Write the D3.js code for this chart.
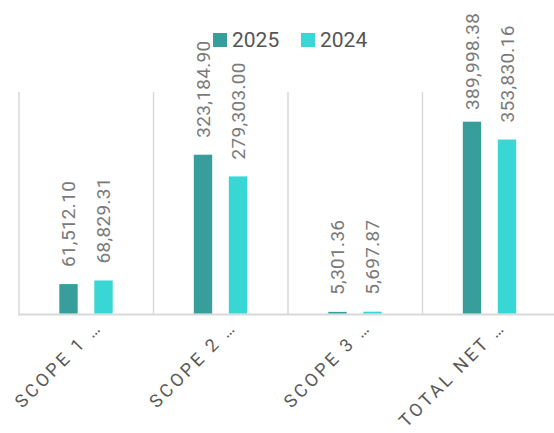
<!DOCTYPE html>
<html>
<head>
<meta charset="utf-8">
<script src="https://cdn.jsdelivr.net/npm/d3@7"></script>
<style>
  body { margin: 0; background: #fff; }
  svg { display: block; font-family: Roboto, "Liberation Sans", sans-serif; }
</style>
</head>
<body>
<svg id="chart" width="554" height="433"></svg>
<script>
// data
var categories = ['SCOPE 1 …', 'SCOPE 2 …', 'SCOPE 3 …', 'TOTAL NET …'];
var series = ['2025', '2024'];
var values2025 = [61512.10, 323184.90, 5301.36, 389998.38];
var values2024 = [68829.31, 279303.00, 5697.87, 353830.16];
var colors = ['#389e9b', '#38d7d6'];

var svg = d3.select('#chart');
var W = 554, H = 433;
var plotTop = 92, base = 314.5, left = 19, right = 557;

var x0 = d3.scaleBand()
  .domain(categories)
  .range([left, right]);

var x1 = d3.scaleBand()
  .domain(series)
  .range([32, 102])
  .paddingInner(0.475)
  .paddingOuter(0.2375);

var y = d3.scaleLinear()
  .domain([0, 450000])
  .range([base, plotTop]);

var fmt = d3.format(',.2f');

var rows = categories.map(function (c, i) {
  return { cat: c, vals: [
    { s: '2025', v: values2025[i] },
    { s: '2024', v: values2024[i] }
  ] };
});

// vertical separators between categories
svg.append('g')
  .selectAll('line')
  .data(categories)
  .enter()
  .append('line')
  .attr('x1', function (d) { return x0(d); })
  .attr('x2', function (d) { return x0(d); })
  .attr('y1', plotTop)
  .attr('y2', base)
  .attr('stroke', '#d9d9d9')
  .attr('stroke-width', 1.5);

// baseline
svg.append('line')
  .attr('x1', left - 1)
  .attr('x2', W)
  .attr('y1', base)
  .attr('y2', base)
  .attr('stroke', '#d9d9d9')
  .attr('stroke-width', 2);

var groups = svg.append('g')
  .selectAll('g')
  .data(rows)
  .enter()
  .append('g')
  .attr('transform', function (d) { return 'translate(' + x0(d.cat) + ',0)'; });

groups.selectAll('rect')
  .data(function (d) { return d.vals; })
  .enter()
  .append('rect')
  .attr('x', function (d) { return x1(d.s); })
  .attr('y', function (d) { return y(d.v); })
  .attr('width', x1.bandwidth())
  .attr('height', function (d) { return y(0) - y(d.v) - 1; })
  .attr('fill', function (d, i) { return colors[i]; });

// value labels, rotated; pushed down when they would leave the top
groups.selectAll('text')
  .data(function (d) { return d.vals; })
  .enter()
  .append('text')
  .attr('transform', function (d) {
    var cx = x1(d.s) + x1.bandwidth() / 2;
    var ly = Math.max(y(d.v) - 17, 110);
    return 'translate(' + cx + ',' + ly + ') rotate(-90)';
  })
  .attr('dy', '0.35em')
  .attr('text-anchor', 'start')
  .attr('fill', '#7a7a7a')
  .style('font-size', '19px')
  .style('letter-spacing', '0.3px')
  .text(function (d) { return fmt(d.v); });

// category labels
svg.append('g')
  .selectAll('text')
  .data(categories)
  .enter()
  .append('text')
  .attr('transform', function (d) {
    var cx = x0(d) + x0.bandwidth() / 2;
    return 'translate(' + (cx + 17) + ',' + 328 + ') rotate(-45)';
  })
  .attr('text-anchor', 'end')
  .attr('fill', '#595959')
  .style('font-size', '18px')
  .style('letter-spacing', '3px')
  .text(function (d) { return d; });

// legend
var legendX = [213, 301];
var legend = svg.append('g')
  .selectAll('g')
  .data(series)
  .enter()
  .append('g')
  .attr('transform', function (d, i) { return 'translate(' + legendX[i] + ',33)'; });

legend.append('rect')
  .attr('width', 14)
  .attr('height', 14)
  .attr('fill', function (d, i) { return colors[i]; });

legend.append('text')
  .attr('x', 19)
  .attr('y', 14)
  .attr('fill', '#555')
  .style('font-size', '21px')
  .text(function (d) { return d; });
</script>
</body>
</html>
